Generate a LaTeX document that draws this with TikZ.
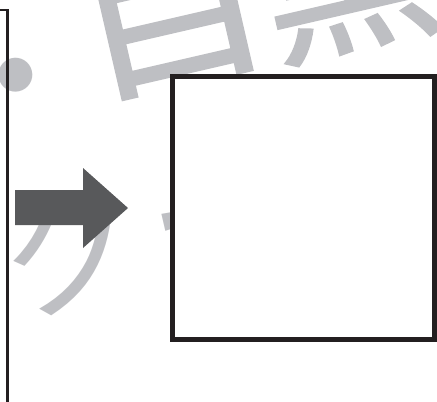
\documentclass[tikz,border=0pt]{standalone}
\usepackage{fontspec}
\newfontfamily\jpfont{Noto Sans CJK JP}
\newfontfamily\jpheavy[FakeBold=1.3]{Noto Sans CJK JP}
\definecolor{wmgray}{RGB}{190,191,195}
\definecolor{inkblack}{RGB}{35,31,32}
\definecolor{arrowgray}{RGB}{88,89,91}
\tikzset{
  wmthin/.style={text=wmgray, inner sep=0pt, font=\jpfont\fontsize{178}{178}\selectfont, rotate=13},
  wmsmall/.style={text=wmgray, inner sep=0pt, font=\jpfont\fontsize{142}{142}\selectfont, rotate=13},
  wmheavy/.style={text=wmgray, inner sep=0pt, font=\jpheavy\fontsize{178}{178}\selectfont, rotate=13},
  framebox/.style={draw=inkblack, line width=5pt, fill=white, minimum width=262pt, minimum height=263pt, inner sep=0pt},
  leftframe/.style={draw=inkblack, line width=2.5pt},
  blockarrow/.style={fill=arrowgray}
}
\begin{document}
\begin{tikzpicture}[x=1pt,y=-1pt]
\useasboundingbox (0,0) rectangle (437,402);
\begin{scope}
\clip (0,0) rectangle (437,402);
\node[wmthin, scale=0.9] (wmDot) at (21,97) {・};
\node[wmheavy, xscale=1.1] (wmMe) at (171,11) {目};
\node[wmheavy] (wmKuro) at (347,-26) {黒};
\node[wmsmall] (wmKu) at (69,250) {ク};
\node[wmthin] (wmBar) at (240,236) {ー};
\draw[leftframe] (-5,10) -- (7.5,10) -- (7.5,410);
\fill[blockarrow] (15,190) -- (83,190) -- (83,168) -- (128,208) -- (83,248) -- (83,225) -- (15,225) -- cycle;
\node[framebox] (target) at (303.5,208) {};
\end{scope}
\end{tikzpicture}
\end{document}
